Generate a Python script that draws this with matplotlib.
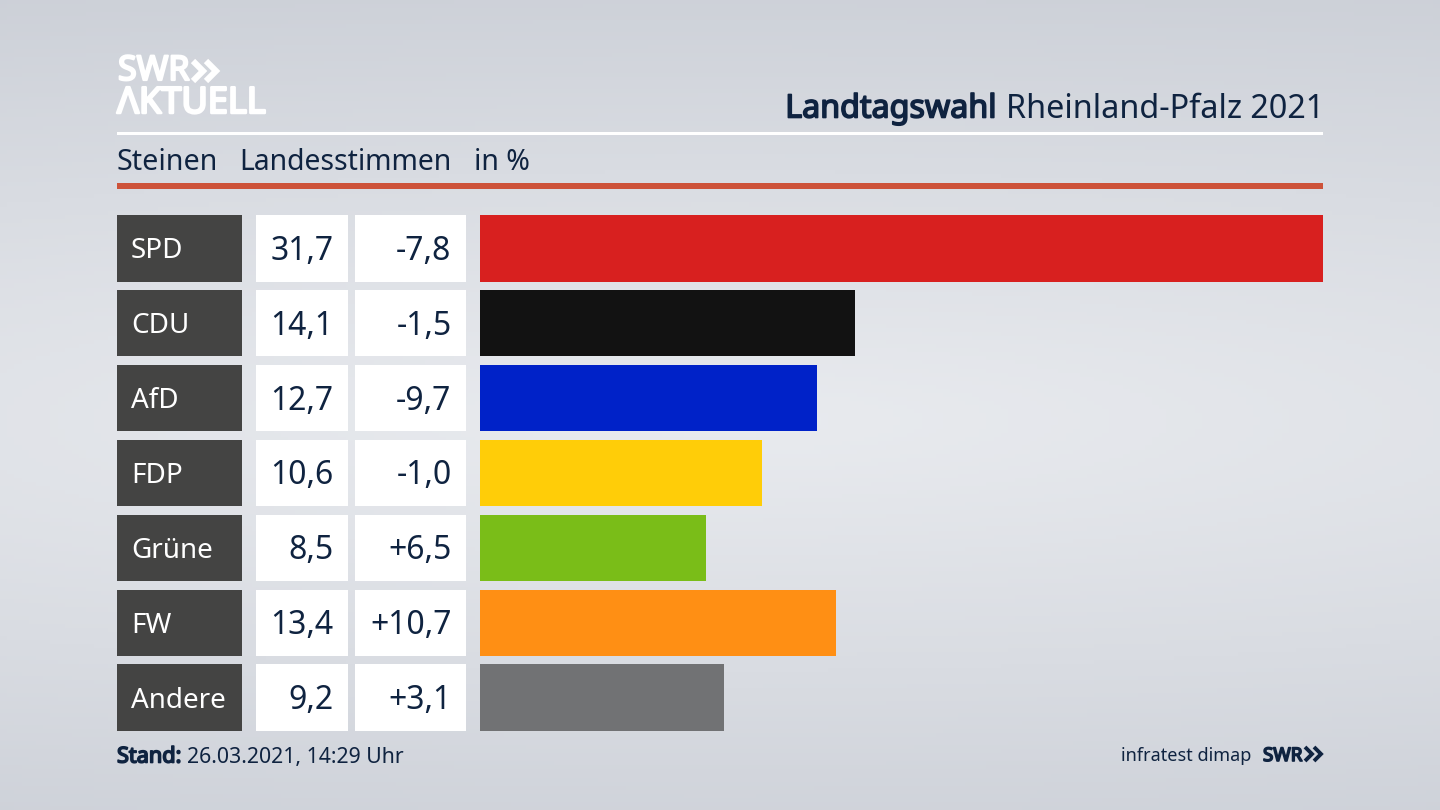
import matplotlib
matplotlib.use("Agg")
import matplotlib.pyplot as plt
import matplotlib.patheffects as pe
import numpy as np
from matplotlib.patches import Rectangle

parties = ["SPD", "CDU", "AfD", "FDP", "Grüne", "FW", "Andere"]
shares = [31.7, 14.1, 12.7, 10.6, 8.5, 13.4, 9.2]
changes = [-7.8, -1.5, -9.7, -1.0, 6.5, 10.7, 3.1]
colors = ["#d8201f", "#121212", "#0022c8", "#ffcd08", "#7abd18", "#ff8f14", "#717274"]

navy = "#0f2340"
plt.rcParams["font.family"] = ["Noto Sans", "DejaVu Sans"]


def fmt(v, sign=False):
    s = f"{v:+.1f}" if sign else f"{v:.1f}"
    return s.replace(".", ",")


def fat(color, w):
    # the bold cut is not picked up, so thicken the regular one
    return [pe.withStroke(linewidth=w, foreground=color)]


fig = plt.figure(figsize=(14.4, 8.1), dpi=100)

# background, lighter band through the middle
bg = fig.add_axes([0, 0, 1, 1])
yy, xx = np.mgrid[0:1:200j, 0:1:200j]
dist = np.sqrt(((yy - 0.52) / 0.62) ** 2 + ((xx - 0.5) / 2.0) ** 2)
bg.imshow(np.clip(dist, 0, 1), cmap=matplotlib.colors.LinearSegmentedColormap.from_list(
    "bg", ["#e9ebef", "#c9cdd5"]), extent=(0, 1440, 810, 0), aspect="auto", vmin=0, vmax=1)
bg.set_xlim(0, 1440)
bg.set_ylim(810, 0)
bg.axis("off")

# header
bg.text(118, 71, "SWR", color="white", fontsize=24.5, va="center", ha="left", path_effects=fat("white", 1.6))
for x0 in (193, 206):
    bg.plot([x0, x0 + 10, x0], [61, 71, 81], color="white", lw=4.4, solid_joinstyle="miter", solid_capstyle="butt")
bg.text(117, 104, "ΛKTUELL", color="white", fontsize=26, va="center", ha="left", path_effects=fat("white", 1.8))

t = bg.text(1324, 109, "Rheinland-Pfalz 2021", color=navy, fontsize=23.3, va="center", ha="right")
fig.canvas.draw()
x_left = t.get_window_extent().x0
bg.text(x_left - 9, 109, "Landtagswahl", color=navy, fontsize=23.2, va="center", ha="right",
        path_effects=fat(navy, 1.2))

bg.add_patch(Rectangle((117, 132), 1206, 3, color="white", lw=0))
bg.add_patch(Rectangle((117, 183), 1206, 6, color="#cd5239", lw=0))
bg.text(117, 163, "Steinen", color=navy, fontsize=20.6, va="center", ha="left")
bg.text(239.5, 163, "Landesstimmen", color=navy, fontsize=20.4, va="center", ha="left")
bg.text(474, 163, "in %", color=navy, fontsize=20.5, va="center", ha="left")

# table part left of the bars
row_top = 215
row_pitch = 74.9
row_h = 66.5
for i, p in enumerate(parties):
    y = row_top + i * row_pitch
    bg.add_patch(Rectangle((117, y), 125, row_h, color="#444443", lw=0))
    bg.add_patch(Rectangle((256, y), 92, row_h, color="white", lw=0))
    bg.add_patch(Rectangle((355, y), 111, row_h, color="white", lw=0))
    bg.text(131, y + row_h / 2 + 3, p, color="white", fontsize=20, va="center", ha="left")
    bg.text(333.5, y + row_h / 2 + 3, fmt(shares[i]), color=navy, fontsize=23, va="center", ha="right")
    bg.text(451.5, y + row_h / 2 + 3, fmt(changes[i], True), color=navy, fontsize=23, va="center", ha="right")

# bars
ax = fig.add_axes([479.5 / 1440, 1 - 730.9 / 810, 843.5 / 1440, 515.9 / 810])
ax.barh(range(len(parties)), shares, height=row_h / row_pitch, color=colors)
ax.set_xlim(0, max(shares))
ax.set_ylim(len(parties) - 1 + row_h / row_pitch / 2, -row_h / row_pitch / 2)
ax.axis("off")

# footer
s = bg.text(117, 757, "Stand:", color=navy, fontsize=15.6, va="center", ha="left", path_effects=fat(navy, 1.2))
bg.text(187, 757, "26.03.2021, 14:29 Uhr", color=navy, fontsize=15.3, va="center", ha="left")
bg.text(1251, 756, "infratest dimap", color=navy, fontsize=13, va="center", ha="right")
bg.text(1263, 756, "SWR", color=navy, fontsize=13.5, va="center", ha="left", path_effects=fat(navy, 1.2))
for x0 in (1305, 1314):
    bg.plot([x0, x0 + 7, x0], [747, 754, 761], color=navy, lw=2.8, solid_joinstyle="miter", solid_capstyle="butt")

fig.savefig("out.png", dpi=100)
